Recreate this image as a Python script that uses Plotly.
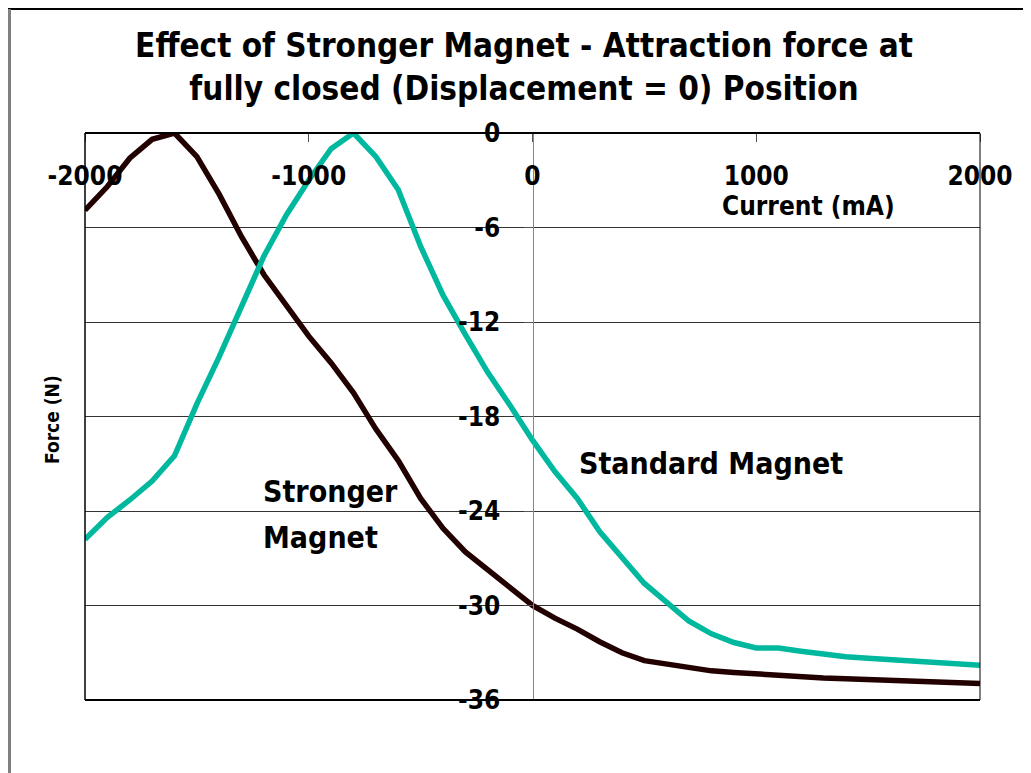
import plotly.graph_objects as go

current = list(range(-2000, 2001, 100))

stronger = [-4.9, -3.4, -1.6, -0.4, 0.0, -1.5, -3.9, -6.6, -9.0, -11.0,
            -12.9, -14.6, -16.5, -18.8, -20.8, -23.2, -25.1, -26.6, -27.7, -28.9,
            -30.0, -30.8, -31.5, -32.3, -33.0, -33.5, -33.7, -33.95, -34.15, -34.25,
            -34.35, -34.45, -34.5, -34.6, -34.65, -34.7, -34.75, -34.8, -34.85, -34.9,
            -34.95]

standard = [-25.8, -24.4, -23.3, -22.1, -20.5, -17.2, -14.2, -11.0, -7.8, -5.2,
            -3.0, -1.0, 0.0, -1.5, -3.6, -7.2, -10.3, -12.8, -15.2, -17.3,
            -19.5, -21.5, -23.2, -25.3, -27.0, -28.6, -29.8, -31.0, -31.8, -32.35,
            -32.7, -32.7, -32.9, -33.1, -33.25, -33.35, -33.45, -33.55, -33.65, -33.72,
            -33.8]

x_ticks = [-2000, -1000, 0, 1000, 2000]
y_ticks = [0, -6, -12, -18, -24, -30, -36]

title_text = "Effect of Stronger Magnet - Attraction force at<br>fully closed (Displacement = 0) Position"

FONT = "DejaVu Sans Condensed, Liberation Sans Narrow, Arial Narrow, sans-serif"

fig = go.Figure()
fig.add_trace(go.Scatter(x=current, y=stronger, mode="lines", name="Stronger Magnet",
                         line=dict(color="#220000", width=5.5), showlegend=False))
fig.add_trace(go.Scatter(x=current, y=standard, mode="lines", name="Standard Magnet",
                         line=dict(color="#00B89E", width=5.5), showlegend=False))

# page offset of the figure inside the browser (body margin)
OFF = 8
W, H = 1023, 765
L, T = 77, 125
PW, PH = 895, 567
R = W - L - PW
B = H - T - PH


def px(xpage):
    return (xpage - OFF - L) / PW


def py(ypage):
    return (H - B - (ypage - OFF)) / PH


fig.update_layout(
    width=W, height=H,
    margin=dict(l=L, r=R, t=T, b=B, autoexpand=False),
    paper_bgcolor="white", plot_bgcolor="white",
    title=dict(text=title_text, x=516 / W, xanchor="center", y=1 - 49 / H, yanchor="middle",
               font=dict(family=FONT, size=33, color="black", weight="bold")),
    xaxis=dict(range=[-2000, 2000], tickvals=x_ticks, ticktext=[str(v) for v in x_ticks],
               side="bottom", anchor="free", position=1,
               showgrid=False, zeroline=False, showline=False,
               ticks="outside", ticklen=8, tickcolor="#555555",
               ticklabelstandoff=12,
               tickfont=dict(family=FONT, size=26, color="black", weight="bold")),
    yaxis=dict(range=[-36, 0], tickvals=y_ticks, ticktext=[str(v) for v in y_ticks],
               anchor="free", position=0.5, side="left",
               showgrid=True, gridcolor="#333333", gridwidth=1,
               zeroline=False, showline=True, linecolor="#888888", linewidth=1,
               ticks="outside", ticklen=9, tickcolor="#555555",
               ticklabelstandoff=18,
               tickfont=dict(family=FONT, size=26, color="black", weight="bold")),
    shapes=[
        dict(type="line", xref="paper", yref="paper", x0=0, x1=1, y0=1, y1=1,
             line=dict(color="black", width=2)),
        dict(type="line", xref="paper", yref="paper", x0=0, x1=1, y0=0, y1=0,
             line=dict(color="black", width=2)),
        dict(type="line", xref="paper", yref="paper", x0=0, x1=0, y0=0, y1=1,
             line=dict(color="black", width=1.5)),
        dict(type="line", xref="paper", yref="paper", x0=1, x1=1, y0=0, y1=1,
             line=dict(color="black", width=1)),
        dict(type="line", xref="paper", yref="paper", x0=px(8), x1=px(1031), y0=py(9), y1=py(9),
             line=dict(color="black", width=2)),
        dict(type="line", xref="paper", yref="paper", x0=px(9.5), x1=px(9.5), y0=py(9), y1=py(773),
             line=dict(color="#808080", width=3)),
    ],
    annotations=[
        dict(text="Current (mA)", xref="paper", yref="paper", x=px(808), y=py(206),
             showarrow=False, xanchor="center", yanchor="middle",
             font=dict(family=FONT, size=26, color="black", weight="bold")),
        dict(text="Force (N)", xref="paper", yref="paper", x=px(52), y=py(420),
             showarrow=False, textangle=-90, xanchor="center", yanchor="middle",
             font=dict(family=FONT, size=19, color="black", weight="bold")),
        dict(text="Standard Magnet", xref="paper", yref="paper", x=px(577), y=py(463),
             showarrow=False, xanchor="left", yanchor="middle",
             font=dict(family=FONT, size=30, color="black", weight="bold")),
        dict(text="Stronger", xref="paper", yref="paper", x=px(261), y=py(491),
             showarrow=False, xanchor="left", yanchor="middle", align="left",
             font=dict(family=FONT, size=30, color="black", weight="bold")),
        dict(text="Magnet", xref="paper", yref="paper", x=px(261), y=py(537),
             showarrow=False, xanchor="left", yanchor="middle", align="left",
             font=dict(family=FONT, size=30, color="black", weight="bold")),
    ],
)

fig.write_html("out.html")
